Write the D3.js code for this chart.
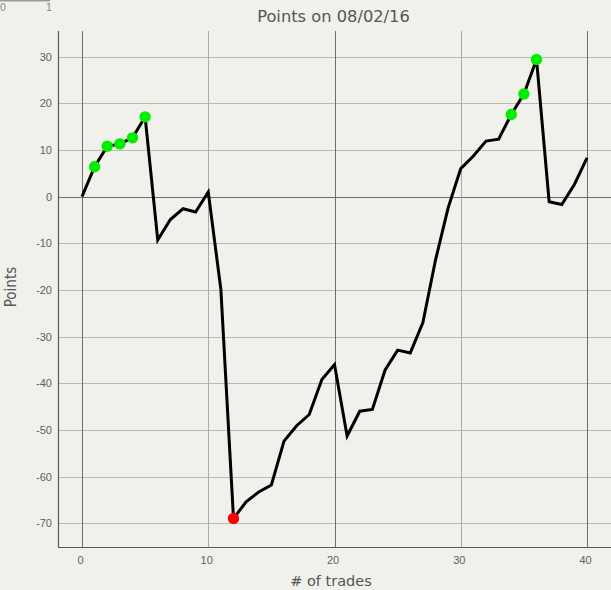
<!DOCTYPE html>
<html>
<head>
<meta charset="utf-8">
<script src="https://cdn.jsdelivr.net/npm/d3@7"></script>
<style>
  html, body { margin: 0; padding: 0; background: #f1f1ec; }
  svg { display: block; }
</style>
</head>
<body>
<svg id="chart" width="611" height="590"></svg>
<script>
// ---- data ----
const title = "Points on 08/02/16";
const xLabel = "# of trades";
const yLabel = "Points";
const points = [0, 6.4, 10.8, 11.3, 12.6, 17.1, -9.3, -4.9, -2.6, -3.3, 1.0,
  -19.9, -69.0, -65.4, -63.3, -61.8, -52.4, -49.1, -46.7, -39.2, -36.0,
  -51.3, -46.0, -45.6, -37.2, -32.9, -33.5, -27.0, -13.6, -2.4, 6.0,
  8.7, 11.9, 12.3, 17.6, 22.0, 29.4, -1.1, -1.7, 2.6, 8.3];
const highIdx = [1, 2, 3, 4, 5, 34, 35, 36];
const lowIdx = [12];
const xTicks = [0, 10, 20, 30, 40];
const yTicks = [-70, -60, -50, -40, -30, -20, -10, 0, 10, 20, 30];
const majorX = [0, 20, 40];
const majorY = [0];
const miniTicks = [0, 1];

// ---- layout ----
const svg = d3.select("#chart");
const L = 58, R = 611, T = 31, B = 547;
const x = d3.scaleLinear().domain([-1.9, 41.9]).range([L, R]);
const y = d3.scaleLinear().domain([-75.1, 35.5]).range([B, T]);

svg.append("rect").attr("width", 611).attr("height", 590).attr("fill", "#f1f1ec");

// stray colour-bar style axis in the top-left corner
const mini = d3.scaleLinear().domain([0, 1]).range([3, 49]);
svg.append("line").attr("x1", 0).attr("x2", 50).attr("y1", 0.5).attr("y2", 0.5)
  .attr("stroke", "#9a9a9a").attr("stroke-width", 2);
svg.selectAll(".mini").data(miniTicks).enter().append("text")
  .attr("x", d => mini(d)).attr("y", 11)
  .attr("text-anchor", "middle")
  .attr("font-family", "DejaVu Sans, sans-serif").attr("font-size", 10)
  .attr("fill", "#8a8a8a").text(d => d);

// grid
const grid = svg.append("g");
grid.selectAll(".gy").data(yTicks).enter().append("line")
  .attr("x1", L).attr("x2", R)
  .attr("y1", d => Math.round(y(d)) + 0.5).attr("y2", d => Math.round(y(d)) + 0.5)
  .attr("stroke", d => majorY.includes(d) ? "#6e6e6e" : "#b9b9b5").attr("stroke-width", 1);
grid.selectAll(".gx").data(xTicks).enter().append("line")
  .attr("y1", T).attr("y2", B)
  .attr("x1", d => Math.round(x(d)) + 0.5).attr("x2", d => Math.round(x(d)) + 0.5)
  .attr("stroke", d => majorX.includes(d) ? "#6e6e6e" : "#a9a9a5").attr("stroke-width", 1);

// axes
const fmt = d => String(d);
const yAxis = d3.axisLeft(y).tickValues(yTicks).tickSize(0).tickPadding(6).tickFormat(fmt);
const gy = svg.append("g").attr("transform", `translate(${L},0)`).call(yAxis);
const xAxis = d3.axisBottom(x).tickValues(xTicks).tickSize(0).tickPadding(9).tickFormat(fmt);
const gx = svg.append("g").attr("transform", `translate(0,${B})`).call(xAxis);
[gx, gy].forEach(g => {
  g.select(".domain").remove();
  g.selectAll("text").attr("font-family", "Liberation Sans, Arial, sans-serif")
    .attr("font-size", 11).attr("fill", "#5e5e5e");
});
gx.selectAll("text").attr("dx", -2);
svg.append("line").attr("x1", L + 0.5).attr("x2", L + 0.5).attr("y1", T).attr("y2", B + 0.5)
  .attr("stroke", "#5a5a5a").attr("stroke-width", 1.2);
svg.append("line").attr("x1", L).attr("x2", R).attr("y1", B + 0.5).attr("y2", B + 0.5)
  .attr("stroke", "#5a5a5a").attr("stroke-width", 1.2);

// line
const line = d3.line().x((d, i) => x(i)).y(d => y(d));
svg.append("path").datum(points).attr("d", line)
  .attr("fill", "none").attr("stroke", "#000").attr("stroke-width", 3)
  .attr("stroke-linejoin", "miter");

// markers
svg.selectAll(".hi").data(highIdx).enter().append("circle")
  .attr("cx", d => x(d)).attr("cy", d => y(points[d])).attr("r", 5.7)
  .attr("fill", "#00ee00");
svg.selectAll(".lo").data(lowIdx).enter().append("circle")
  .attr("cx", d => x(d)).attr("cy", d => y(points[d])).attr("r", 5.7)
  .attr("fill", "#ff0000");

// titles
svg.append("text").attr("x", 333.5).attr("y", 22).attr("text-anchor", "middle")
  .attr("font-family", "DejaVu Sans, sans-serif").attr("font-size", 16.3)
  .attr("fill", "#555").text(title);
svg.append("text").attr("x", 331).attr("y", 586).attr("text-anchor", "middle")
  .attr("font-family", "DejaVu Sans, sans-serif").attr("font-size", 14.5)
  .attr("fill", "#555").text(xLabel);
svg.append("text").attr("transform", "translate(16,287) rotate(-90)")
  .attr("text-anchor", "middle")
  .attr("font-family", "Liberation Sans Narrow, DejaVu Sans Condensed, sans-serif")
  .attr("font-size", 15).attr("fill", "#555").text(yLabel);
</script>
</body>
</html>
